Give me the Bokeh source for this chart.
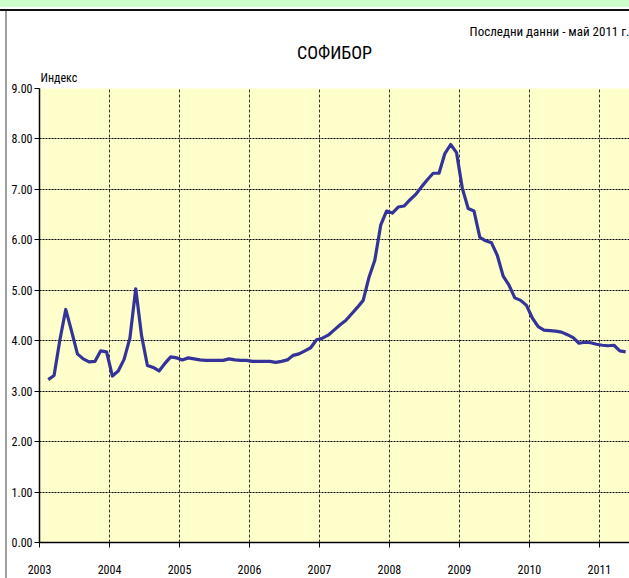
from bokeh.plotting import figure
from bokeh.models import Title, FixedTicker, Range1d, ColumnDataSource, CustomJSTickFormatter
from bokeh.embed import file_html
from bokeh.resources import INLINE

# Monthly SOFIBOR index, Feb 2003 .. May 2011
start_year = 2003
start_month = 2
sofibor = [
    3.23, 3.31, 4.02, 4.62, 4.19, 3.74, 3.64, 3.58, 3.59, 3.80, 3.78,          # 2003 Feb-Dec
    3.30, 3.40, 3.63, 4.05, 5.03, 4.10, 3.51, 3.47, 3.40, 3.55, 3.68, 3.66,    # 2004
    3.62, 3.66, 3.64, 3.62, 3.61, 3.61, 3.61, 3.61, 3.64, 3.62, 3.61, 3.61,    # 2005
    3.59, 3.59, 3.59, 3.59, 3.57, 3.59, 3.62, 3.71, 3.74, 3.80, 3.86, 4.02,    # 2006
    4.05, 4.11, 4.21, 4.31, 4.40, 4.53, 4.66, 4.80, 5.26, 5.60, 6.29, 6.57,    # 2007
    6.53, 6.65, 6.67, 6.79, 6.90, 7.05, 7.19, 7.32, 7.32, 7.71, 7.89, 7.73,    # 2008
    7.02, 6.62, 6.57, 6.05, 5.98, 5.94, 5.69, 5.28, 5.10, 4.85, 4.80, 4.70,    # 2009
    4.45, 4.28, 4.21, 4.20, 4.19, 4.17, 4.12, 4.06, 3.95, 3.97, 3.96, 3.93,    # 2010
    3.91, 3.90, 3.91, 3.80, 3.78,                                              # 2011 Jan-May
]
year_ticks = [2003, 2004, 2005, 2006, 2007, 2008, 2009, 2010, 2011]
y_ticks = [0, 1, 2, 3, 4, 5, 6, 7, 8, 9]

title_text = "СОФИБОР"
note_text = "Последни данни - май 2011 г."
y_label_text = "Индекс"

# month -> fractional year (mid-month)
xs = []
for i in range(len(sofibor)):
    m = start_month - 1 + i
    xs.append(start_year + m // 12 + ((m % 12) + 0.5) / 12.0)

src = ColumnDataSource(dict(x=xs, y=sofibor))

FONT = "Liberation Sans Narrow, Roboto Condensed, DejaVu Sans Condensed, sans-serif"

p = figure(width=629, height=578, output_backend="svg", toolbar_location=None,
           x_range=Range1d(2003, 2011.43), y_range=Range1d(0, 9),
           min_border_left=39, min_border_right=0, min_border_top=88, min_border_bottom=36,
           background_fill_color="#FFFFCC", border_fill_color=None)
p.styles = {
    "background-color": "#ffffff",
    "background-image": ("linear-gradient(to bottom, #CCFFCC 0px, #CCFFCC 7px, #ffffff 7px, "
                         "#ffffff 9px, #111111 9px, #111111 11px, #ffffff 11px), "
                         "linear-gradient(to right, #ffffff 0px, #ffffff 5px, #a0a0a0 5px, "
                         "#a0a0a0 7px, #ffffff 7px)"),
    "background-size": "100% 11px, 8px 100%",
    "background-repeat": "no-repeat, no-repeat",
    "background-position": "0 0, 0 0",
}
p.outline_line_color = None
p.title.visible = False

p.line("x", "y", source=src, line_color="#333399", line_width=3.2, line_join="round")

# axes
for ax in (p.xaxis[0], p.yaxis[0]):
    ax.axis_line_color = "black"
    ax.axis_line_width = 1.5
    ax.major_tick_line_color = "black"
    ax.major_tick_out = 5
    ax.major_tick_in = 0
    ax.minor_tick_line_color = None
    ax.major_label_text_font = FONT
    ax.major_label_text_font_size = "12px"
    ax.major_label_text_color = "black"

p.xaxis.ticker = FixedTicker(ticks=year_ticks)
p.xaxis.major_label_standoff = 17
p.yaxis.ticker = FixedTicker(ticks=y_ticks)
p.yaxis.major_label_standoff = 2
p.yaxis.formatter = CustomJSTickFormatter(code="return tick.toFixed(2);")

p.ygrid.grid_line_color = "#000000"
p.ygrid.grid_line_dash = "2 1"
p.ygrid.grid_line_width = 1
p.xgrid.grid_line_color = "#333333"
p.xgrid.grid_line_dash = "3 2"
p.xgrid.grid_line_width = 1

# texts above the frame (first added = closest to the frame)
p.add_layout(Title(text=y_label_text, align="left", offset=1, standoff=8,
                   text_font=FONT, text_font_size="12px", text_font_style="normal",
                   text_color="black"), "above")
p.add_layout(Title(text=title_text, align="center", standoff=4,
                   text_font=FONT, text_font_size="18px", text_font_style="normal",
                   text_color="black"), "above")
p.add_layout(Title(text=note_text, align="right", offset=0, standoff=-2,
                   text_font=FONT, text_font_size="13px", text_font_style="normal",
                   text_color="black"), "above")

open("out.html", "w").write(file_html(p, INLINE))
